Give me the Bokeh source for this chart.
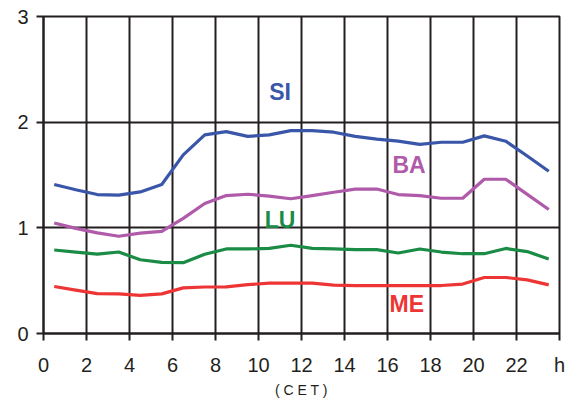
from bokeh.plotting import figure
from bokeh.models import Range1d, FixedTicker, ColumnDataSource
from bokeh.core.properties import value
from bokeh.embed import file_html
from bokeh.resources import INLINE

hours = [h + 0.5 for h in range(24)]
SI = [1.41, 1.36, 1.315, 1.31, 1.34, 1.41, 1.69, 1.88, 1.91, 1.865, 1.88, 1.92,
      1.92, 1.905, 1.865, 1.84, 1.82, 1.79, 1.81, 1.81, 1.87, 1.82, 1.68, 1.535]
BA = [1.046, 0.995, 0.952, 0.92, 0.95, 0.967, 1.09, 1.23, 1.305, 1.318, 1.30, 1.275,
      1.305, 1.337, 1.367, 1.367, 1.315, 1.305, 1.28, 1.28, 1.46, 1.46, 1.317, 1.174]
LU = [0.79, 0.77, 0.752, 0.771, 0.698, 0.673, 0.67, 0.75, 0.80, 0.80, 0.805, 0.835,
      0.805, 0.80, 0.793, 0.793, 0.762, 0.80, 0.771, 0.755, 0.755, 0.805, 0.775, 0.705]
ME = [0.445, 0.41, 0.378, 0.375, 0.36, 0.375, 0.432, 0.44, 0.442, 0.462, 0.476, 0.476,
      0.476, 0.458, 0.454, 0.454, 0.454, 0.454, 0.454, 0.468, 0.53, 0.53, 0.507, 0.46]

series_names = ["SI", "BA", "LU", "ME"]
series_values = [SI, BA, LU, ME]
series_colors = ["#3a56a8", "#b05aaa", "#1b8c46", "#ee3535"]
label_x = [11.0, 17.0, 11.0, 16.9]
label_y = [2.29, 1.59, 1.076, 0.276]

x_ticks = list(range(0, 25, 2))
x_tick_labels = [str(t) for t in range(0, 24, 2)] + ["h"]
y_ticks = [0, 1, 2, 3]

FONT = "Liberation Sans"
DARK = "#231f20"

p = figure(width=570, height=400, x_range=Range1d(0, 24), y_range=Range1d(0, 3),
           output_backend="svg", toolbar_location=None,
           min_border_left=43, min_border_right=11, min_border_top=16, min_border_bottom=65)

p.outline_line_color = DARK
p.outline_line_width = 2
p.background_fill_color = "white"
p.border_fill_color = "white"

p.xgrid.ticker = FixedTicker(ticks=x_ticks)
p.ygrid.ticker = FixedTicker(ticks=y_ticks)
for g in (p.xgrid, p.ygrid):
    g.grid_line_color = DARK
    g.grid_line_width = 2
    g.grid_line_alpha = 1.0

for ax in (p.xaxis, p.yaxis):
    ax.axis_line_color = DARK
    ax.axis_line_width = 2
    ax.major_tick_line_color = DARK
    ax.major_tick_line_width = 2
    ax.major_tick_out = 7
    ax.major_tick_in = 0
    ax.minor_tick_line_color = None
    ax.major_label_text_font = FONT
    ax.major_label_text_font_size = "20px"
    ax.major_label_text_color = DARK

p.xaxis.ticker = FixedTicker(ticks=x_ticks)
p.xaxis.major_label_overrides = {t: lab for t, lab in zip(x_ticks, x_tick_labels)}
p.xaxis.major_label_standoff = 13
p.xaxis.axis_label = "( C E T )"
p.xaxis.axis_label_text_font = FONT
p.xaxis.axis_label_text_font_style = "normal"
p.xaxis.axis_label_text_font_size = "14px"
p.xaxis.axis_label_text_color = DARK
p.xaxis.axis_label_standoff = 3

p.yaxis.ticker = FixedTicker(ticks=y_ticks)
p.yaxis.major_label_standoff = 8

for name, vals, col in zip(series_names, series_values, series_colors):
    p.line(hours, vals, line_color=col, line_width=3.2, line_join="round")

src = ColumnDataSource(dict(x=label_x, y=label_y, t=series_names, c=series_colors))
p.text(x="x", y="y", text="t", text_color="c", source=src,
       text_font=value(FONT), text_font_style="bold", text_font_size="23px",
       text_align="center", text_baseline="middle")

open("out.html", "w").write(file_html(p, INLINE))
